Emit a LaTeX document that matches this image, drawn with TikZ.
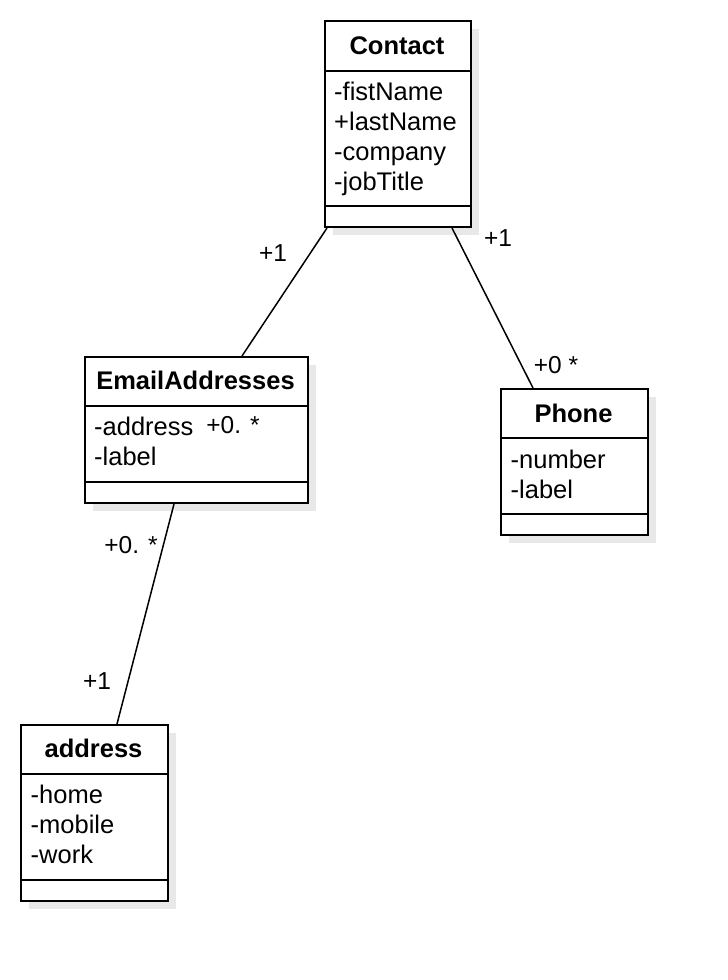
\documentclass[tikz,border=0pt]{standalone}
\usepackage{fontspec}
\setmainfont{Liberation Sans}
\usetikzlibrary{shadows}

\tikzset{
    classbox/.style={draw, line width=2pt, fill=white, anchor=north west, inner sep=0pt,
        drop shadow={shadow xshift=8pt, shadow yshift=-8pt, fill=black!9, opacity=1}},
    classname/.style={font=\fontsize{25.5}{30}\selectfont\bfseries, anchor=base, inner sep=0pt},
    classattr/.style={font=\fontsize{25.5}{30}\selectfont, anchor=base west, inner sep=0pt},
    mult/.style={font=\fontsize{24.5}{28}\selectfont, inner sep=1pt},
    link/.style={line width=1.5pt},
    divider/.style={line width=2pt},
}

\begin{document}
\begin{tikzpicture}[x=1pt,y=-1pt]
        \useasboundingbox[fill=white] (0,0) rectangle (728,980);

        % Contact
        \node[classbox, minimum width=146pt, minimum height=206pt] (contact) at (324,20) {};
        \draw[divider] ([yshift=-51pt]contact.north west) -- ([yshift=-51pt]contact.north east);
        \draw[divider] ([yshift=-186pt]contact.north west) -- ([yshift=-186pt]contact.north east);
        \node[classname] (contactname) at (397,54) {Contact};
        \foreach \t [count=\i] in {-fistName,+lastName,-company,-jobTitle} {
            \node[classattr] (contact\i) at (334,{70+30*\i}) {\t};
        }

        % EmailAddresses
        \node[classbox, minimum width=223pt, minimum height=146pt] (email) at (84,356) {};
        \draw[divider] ([yshift=-50pt]email.north west) -- ([yshift=-50pt]email.north east);
        \draw[divider] ([yshift=-126pt]email.north west) -- ([yshift=-126pt]email.north east);
        \node[classname] (emailname) at (195.5,389) {EmailAddresses};
        \foreach \t [count=\i] in {-address,-label} {
            \node[classattr] (email\i) at (94,{405+30*\i}) {\t};
        }

        % Phone
        \node[classbox, minimum width=147pt, minimum height=146pt] (phone) at (500,388) {};
        \draw[divider] ([yshift=-50pt]phone.north west) -- ([yshift=-50pt]phone.north east);
        \draw[divider] ([yshift=-126pt]phone.north west) -- ([yshift=-126pt]phone.north east);
        \node[classname] (phonename) at (573.5,422) {Phone};
        \foreach \t [count=\i] in {-number,-label} {
            \node[classattr] (phone\i) at (510.5,{438+30*\i}) {\t};
        }

        % address
        \node[classbox, minimum width=147pt, minimum height=176pt] (address) at (20,724) {};
        \draw[divider] ([yshift=-50pt]address.north west) -- ([yshift=-50pt]address.north east);
        \draw[divider] ([yshift=-156pt]address.north west) -- ([yshift=-156pt]address.north east);
        \node[classname] (addressname) at (93.5,757) {address};
        \foreach \t [count=\i] in {-home,-mobile,-work} {
            \node[classattr] (address\i) at (30.5,{773+30*\i}) {\t};
        }

        % associations
        \draw[link] ([xshift=3pt]contact.south west) -- ([xshift=158pt]email.north west);
        \draw[link] ([xshift=128pt]contact.south west) -- ([xshift=33pt]phone.north west);
        \draw[link] ([xshift=90pt]email.south west) -- ([xshift=97pt]address.north west);

        % multiplicities
        \node[mult] (m1) at (273,253) {+1};
        \node[mult] (m2) at (498,238) {+1};
        \node[mult] (m3) at (556,365) {+0 *};
        \node[mult] (m4) at (233,425) {+0. *};
        \node[mult] (m5) at (131,545) {+0. *};
        \node[mult] (m6) at (97,681) {+1};

    \end{tikzpicture}
\end{document}
